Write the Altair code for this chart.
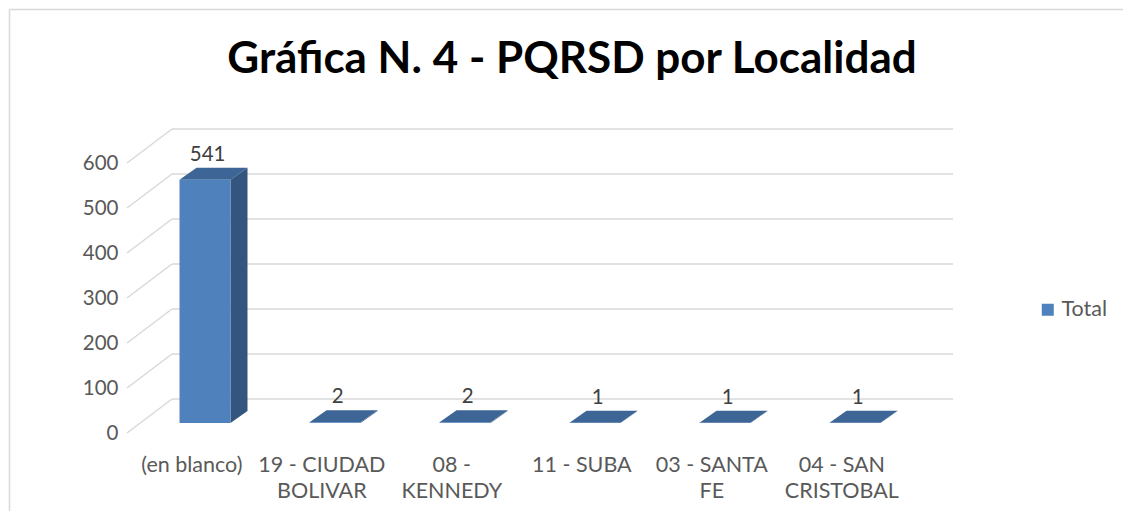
import json
import altair as alt
import pandas as pd

# ---------------- data ----------------
categories = ["(en blanco)", "19 - CIUDAD BOLIVAR", "08 - KENNEDY", "11 - SUBA",
              "03 - SANTA FE", "04 - SAN CRISTOBAL"]
category_lines = [["(en blanco)"], ["19 - CIUDAD", "BOLIVAR"], ["08 -", "KENNEDY"],
                  ["11 - SUBA"], ["03 - SANTA", "FE"], ["04 - SAN", "CRISTOBAL"]]
values = [541, 2, 2, 1, 1, 1]
y_ticks = [0, 100, 200, 300, 400, 500, 600]
series_name = "Total"
title_text = "Gráfica N. 4 - PQRSD por Localidad"

# ---------------- 3-D styling (scale units) ----------------
HALF = 0.196      # half bar width (category units)
BASE = 22         # bar floor height above front plane
DX = 0.131        # bar depth, x
DV = 26.7         # bar depth, y
WALL_DX = 0.346   # wall depth, x
WALL_DV = 75.6    # wall depth, y
X_MIN, X_MAX = -0.6, 5.754
Y_MAX = 677.8
LABEL_SHIFT = -0.105

FRONT = "#4F81BD"
SIDE = "#34557E"
TOP = "#3D6596"
GRID = "#D9D9D9"
TXT = "#595959"
FONT = "Lato"

# ---------------- tables ----------------
front_rows, side_rows, top_rows = [], [], []
for i, (c, v) in enumerate(zip(categories, values)):
    xl, xr = i - HALF, i + HALF
    y0, y1 = BASE, BASE + v
    front_rows.append(dict(idx=i, cat=c, value=v, xl=xl, xr=xr, y0=y0, y1=y1,
                           serie=series_name, lx=i + 0.02, ly=y1 + DV))
    side_rows += [dict(idx=i, x=xr, yt=y1, yb=y0),
                  dict(idx=i, x=xr + DX, yt=y1 + DV, yb=y0 + DV)]
    top_rows += [dict(idx=i, y=y1, xa=xl, xb=xr),
                 dict(idx=i, y=y1 + DV, xa=xl + DX, xb=xr + DX)]
front_df = pd.DataFrame(front_rows)
side_df = pd.DataFrame(side_rows)
top_df = pd.DataFrame(top_rows)
grid_df = pd.DataFrame(dict(t=y_ticks))
grid_df["gx0"] = X_MIN
grid_df["gx1"] = X_MIN + WALL_DX
grid_df["gx2"] = X_MAX
grid_df["gy_back"] = grid_df["t"] + WALL_DV

xscale = alt.Scale(domain=[X_MIN, X_MAX], nice=False, zero=False)
yscale = alt.Scale(domain=[0, Y_MAX], nice=False, zero=False)

label_expr = json.dumps(category_lines) + f"[round(datum.value - ({LABEL_SHIFT}))]"
xaxis = alt.Axis(values=[i + LABEL_SHIFT for i in range(len(categories))],
                 labelExpr=label_expr, title=None, domain=False, ticks=False,
                 grid=False, labelPadding=21, labelFontSize=21.5, labelFont=FONT,
                 labelColor=TXT, labelLineHeight=26, labelFlush=False,
                 labelOverlap=False, labelBound=False)
yaxis = alt.Axis(values=y_ticks, title=None, domain=False, ticks=False, grid=False,
                 labelPadding=9, labelFontSize=20.5, labelFont=FONT, labelColor=TXT)


def X(f):
    return alt.X(f, type="quantitative", scale=xscale, axis=xaxis)


def Y(f):
    return alt.Y(f, type="quantitative", scale=yscale, axis=yaxis)


one = alt.Data(values=[{"k": 1}])

border_v = alt.Chart(one).mark_rule(color=GRID, strokeWidth=1.5).encode(
    x=alt.value(-117.5), y=alt.value(-118.5), y2=alt.value(390))
border_h = alt.Chart(one).mark_rule(color=GRID, strokeWidth=1.5).encode(
    x=alt.value(-117.5), x2=alt.value(1010), y=alt.value(-118.5))

grid_side = alt.Chart(grid_df).mark_rule(color=GRID, strokeWidth=1.5).encode(
    x=X("gx0"), y=Y("t"), x2="gx1", y2="gy_back")
grid_back = alt.Chart(grid_df).mark_rule(color=GRID, strokeWidth=1.5).encode(
    x=X("gx1"), x2="gx2", y=Y("gy_back"))

side = alt.Chart(side_df).mark_area(color=SIDE, orient="vertical").encode(
    x=X("x"), y=Y("yt"), y2="yb", detail="idx:N")
top = alt.Chart(top_df).mark_area(color=TOP, orient="horizontal").encode(
    y=Y("y"), x=X("xa"), x2="xb", detail="idx:N")
front = alt.Chart(front_df).mark_rect().encode(
    x=X("xl"), x2="xr", y=Y("y0"), y2="y1",
    color=alt.Color("serie:N", scale=alt.Scale(domain=[series_name], range=[FRONT]),
                    legend=alt.Legend(orient="none", legendX=910, legendY=171,
                                      title=None, symbolType="square",
                                      symbolSize=144, symbolStrokeWidth=0,
                                      labelFontSize=21.5, labelFont=FONT,
                                      labelColor=TXT, labelOffset=3)))
labels = alt.Chart(front_df).mark_text(fontSize=20.5, font=FONT, color="#404040",
                                       baseline="bottom", dy=-3).encode(
    x=X("lx"), y=Y("ly"), text="value:Q")
title = alt.Chart(one).mark_text(text=title_text, fontSize=44, font=FONT,
                                 fontWeight="bold", color="#000000",
                                 align="center", baseline="alphabetic").encode(
    x=alt.value(445), y=alt.value(-55))

chart = alt.layer(border_v, border_h, grid_side, grid_back, side, top, front,
                  labels, title).properties(
    width=826, height=305,
    padding={"left": 119, "top": 120, "right": 170, "bottom": 78},
    autosize=alt.AutoSizeParams(type="none"),
).configure_view(stroke=None)

chart.save("out.html", embed_options={"renderer": "svg", "actions": False})
